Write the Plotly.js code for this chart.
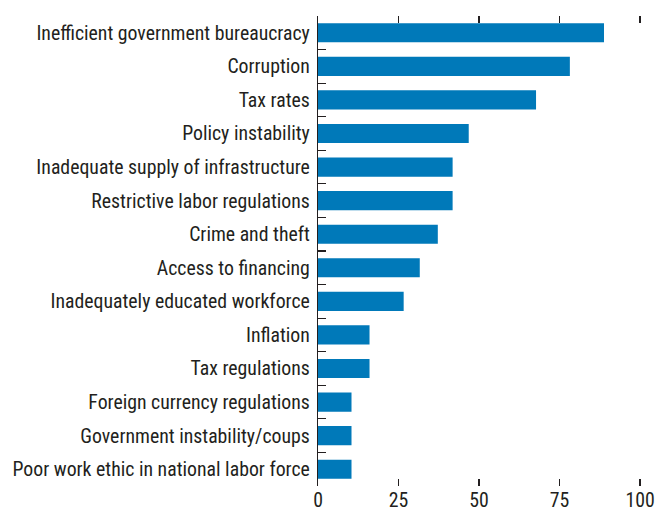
<!DOCTYPE html>
<html>
<head>
<meta charset="utf-8">
<script src="https://cdn.plot.ly/plotly-3.0.1.min.js"></script>
<style>html,body{margin:0;padding:0;background:#fff;}#chart{width:667px;height:511px;}</style>
</head>
<body>
<div id="chart"></div>
<script>
const categories = [
  "Inefficient government bureaucracy",
  "Corruption",
  "Tax rates",
  "Policy instability",
  "Inadequate supply of infrastructure",
  "Restrictive labor regulations",
  "Crime and theft",
  "Access to financing",
  "Inadequately educated workforce",
  "Inflation",
  "Tax regulations",
  "Foreign currency regulations",
  "Government instability/coups",
  "Poor work ethic in national labor force"
];
const values = [88.8, 78.2, 67.7, 46.8, 41.8, 41.8, 37.2, 31.6, 26.6, 16.0, 16.0, 10.4, 10.4, 10.4];
const xTicks = [0, 25, 50, 75, 100];

const font = {family: "'Liberation Sans Narrow', 'Arial Narrow', 'Roboto Condensed', sans-serif", size: 19.8, color: "#231f20"};

const trace = {
  type: "bar",
  orientation: "h",
  x: values,
  y: categories,
  marker: {color: "#0079b9"},
  hoverinfo: "none"
};

const layout = {
  width: 667,
  height: 511,
  margin: {l: 318, r: 25, t: 16, b: 25},
  paper_bgcolor: "#fff",
  plot_bgcolor: "#fff",
  showlegend: false,
  bargap: 0.43,
  font: font,
  xaxis: {
    range: [0, 100.6],
    tickvals: xTicks,
    ticktext: xTicks.map(String),
    ticks: "inside",
    ticklen: 7,
    tickwidth: 1.5,
    tickcolor: "#231f20",
    mirror: "ticks",
    showline: false,
    showgrid: false,
    zeroline: false,
    tickfont: font,
    fixedrange: true
  },
  yaxis: {
    type: "category",
    autorange: "reversed",
    categoryorder: "array",
    categoryarray: categories,
    ticks: "inside",
    tickson: "boundaries",
    ticklen: 8,
    tickwidth: 1.2,
    tickcolor: "#231f20",
    showline: true,
    linecolor: "#231f20",
    linewidth: 1.2,
    showgrid: false,
    zeroline: false,
    tickfont: font,
    ticklabelstandoff: 3,
    fixedrange: true
  }
};

Plotly.newPlot("chart", [trace], layout, {displayModeBar: false, staticPlot: true});
</script>
</body>
</html>
